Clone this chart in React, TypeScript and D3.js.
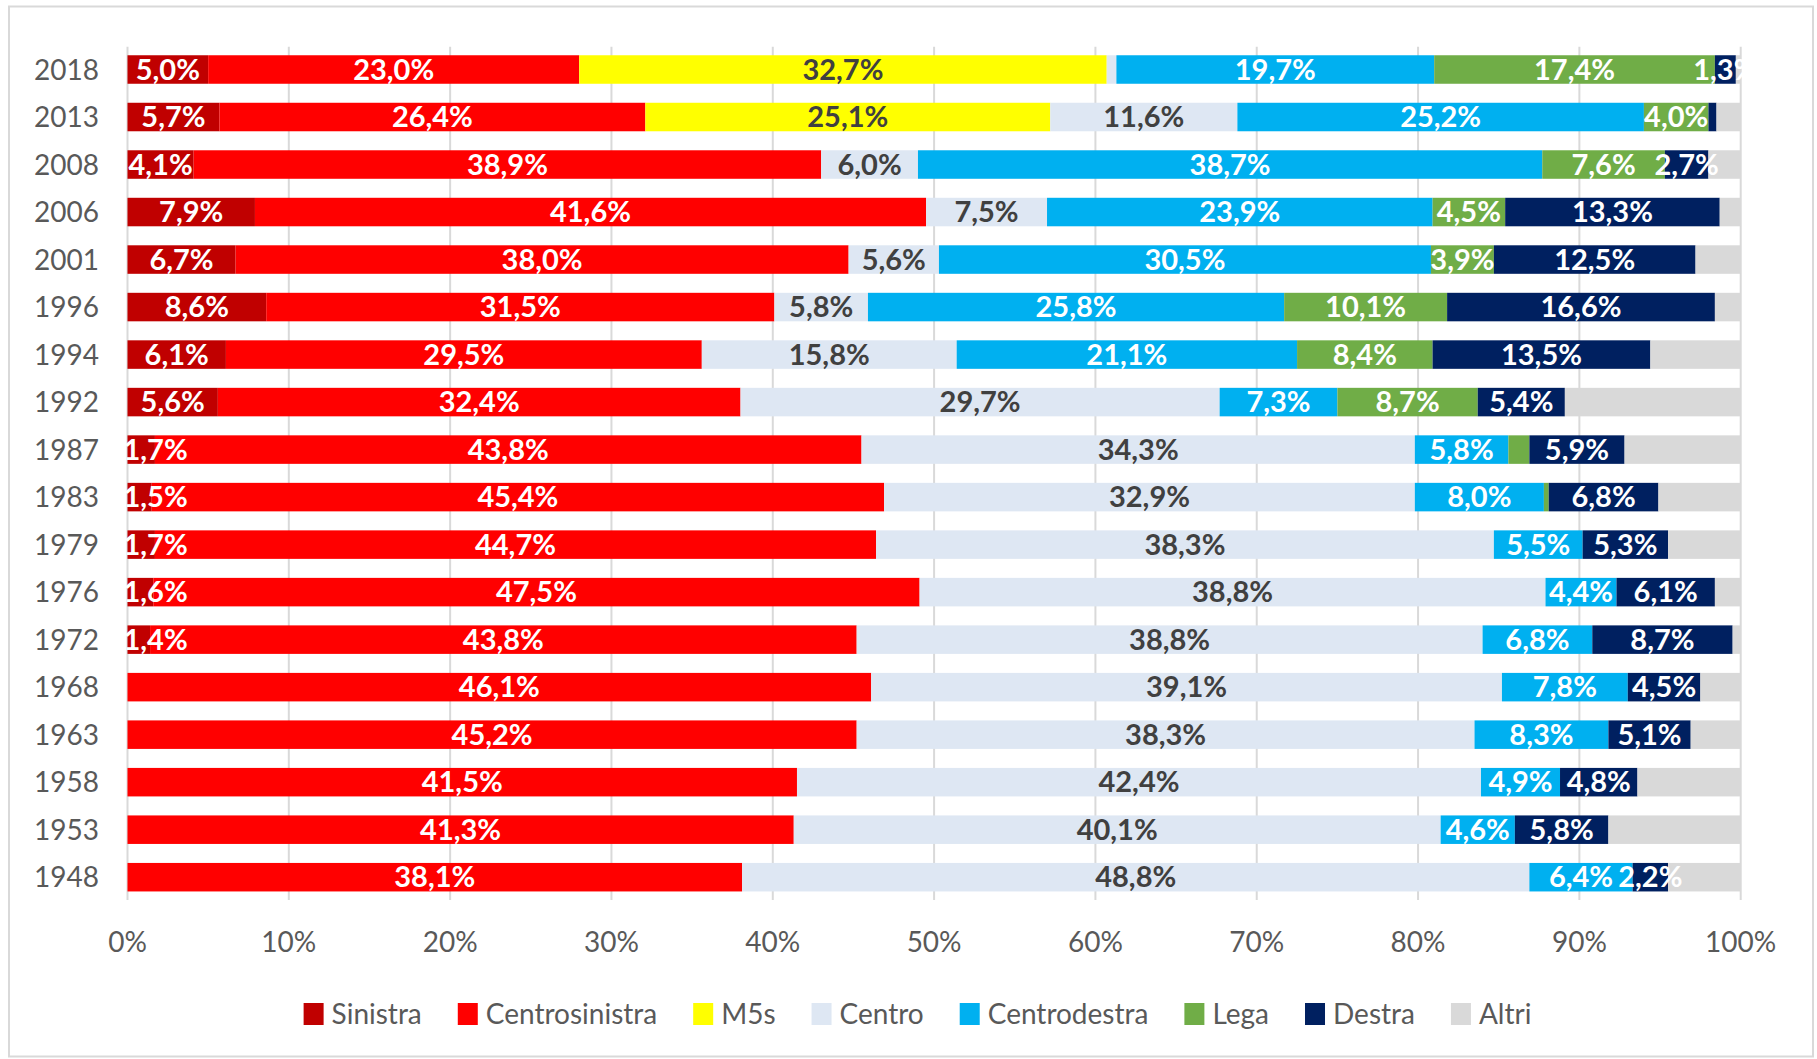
import React from "react";
import * as d3 from "d3";

const years = ["2018","2013","2008","2006","2001","1996","1994","1992","1987","1983","1979","1976","1972","1968","1963","1958","1953","1948"];
const seriesNames = ["Sinistra","Centrosinistra","M5s","Centro","Centrodestra","Lega","Destra","Altri"];
const sinistra = [5.0,5.7,4.1,7.9,6.7,8.6,6.1,5.6,1.7,1.5,1.7,1.6,1.4,0,0,0,0,0];
const centrosinistra = [23.0,26.4,38.9,41.6,38.0,31.5,29.5,32.4,43.8,45.4,44.7,47.5,43.8,46.1,45.2,41.5,41.3,38.1];
const m5s = [32.7,25.1,0,0,0,0,0,0,0,0,0,0,0,0,0,0,0,0];
const centro = [0.6,11.6,6.0,7.5,5.6,5.8,15.8,29.7,34.3,32.9,38.3,38.8,38.8,39.1,38.3,42.4,40.1,48.8];
const centrodestra = [19.7,25.2,38.7,23.9,30.5,25.8,21.1,7.3,5.8,8.0,5.5,4.4,6.8,7.8,8.3,4.9,4.6,6.4];
const lega = [17.4,4.0,7.6,4.5,3.9,10.1,8.4,8.7,1.3,0.3,0,0,0,0,0,0,0,0];
const destra = [1.3,0.5,2.7,13.3,12.5,16.6,13.5,5.4,5.9,6.8,5.3,6.1,8.7,4.5,5.1,4.8,5.8,2.2];
const altri = [0.3,1.5,2.0,1.3,2.8,1.6,5.6,10.9,7.2,5.1,4.5,1.6,0.5,2.5,3.1,6.4,8.2,4.5];
const xTicks = [0,10,20,30,40,50,60,70,80,90,100];
const hiddenLabels = ["1987|Lega"];

const seriesValues = [sinistra, centrosinistra, m5s, centro, centrodestra, lega, destra, altri];
const colors = ["#C00000","#FF0000","#FFFF00","#DEE7F3","#00B0F0","#70AD47","#002060","#D9D9D9"];
const darkLabelSeries = ["M5s","Centro"];

const W = 1817, H = 1059;
const FONT = "Lato, Carlito, Calibri, sans-serif";

function fmt(v: number) {
  return v.toFixed(1).replace(".", ",") + "%";
}

let _ctx: CanvasRenderingContext2D | null = null;
function measure(text: string, size: number, bold = false) {
  if (!_ctx) _ctx = document.createElement("canvas").getContext("2d");
  _ctx!.font = `${bold ? "bold " : ""}${size}px Lato`;
  return _ctx!.measureText(text).width;
}

export default function App() {
  const plotLeft = 127.5;
  const x = d3.scaleLinear().domain([0, 100]).range([plotLeft, 1740.7]);
  const y = d3.scaleBand<string>().domain(years).range([46.7, 900]).paddingInner(0.4).paddingOuter(0.18);

  const table = years.map((yr, i) => {
    const row: any = { year: yr };
    seriesNames.forEach((s, k) => (row[s] = seriesValues[k][i]));
    return row;
  });
  const stacked = d3.stack<any>().keys(seriesNames)(table);

  const labelFont = 29;
  const axisFont = 28;

  const legendFont = 28;
  const swW = 20, swH = 22, swGap = 8, itemGap = 36;
  const widths = seriesNames.map((s) => measure(s, legendFont));
  const total = widths.reduce((a, w) => a + swW + swGap + w, 0) + itemGap * (seriesNames.length - 1);
  let lx = 917.5 - total / 2;
  const legendItems = seriesNames.map((s, k) => {
    const item = { name: s, x: lx, color: colors[k] };
    lx += swW + swGap + widths[k] + itemGap;
    return item;
  });
  const legendY = 1014;

  return (
    <svg width={W} height={H} style={{ position: "absolute", left: 0, top: 0, display: "block", background: "#fff" }} fontFamily={FONT}>
      <defs>
        <clipPath id="plotClip">
          <rect x={122} y={40} width={1746 - 122} height={870} />
        </clipPath>
      </defs>
      <rect x={9} y={6.5} width={1804} height={1050} fill="#fff" stroke="#D9D9D9" strokeWidth={2} />
      {xTicks.map((t) => (
        <line key={t} x1={x(t)} x2={x(t)} y1={46.7} y2={900} stroke="#D9D9D9" strokeWidth={2} />
      ))}
      {stacked.map((layer, k) => (
        <g key={layer.key} fill={colors[k]}>
          {layer.map((d, i) =>
            d[1] - d[0] > 0 ? (
              <rect key={i} x={x(d[0])} y={y(years[i])!} width={x(d[1]) - x(d[0])} height={y.bandwidth()} />
            ) : null
          )}
        </g>
      ))}
      <g clipPath="url(#plotClip)" fontWeight="bold" fontSize={labelFont} textAnchor="middle">
        {stacked.map((layer, k) =>
          layer.map((d, i) => {
            const v = d[1] - d[0];
            const name = layer.key;
            if (name === "Altri" || v < 1.0 || hiddenLabels.includes(`${years[i]}|${name}`)) return null;
            const txt = fmt(seriesValues[k][i]);
            const w = measure(txt, labelFont, true);
            let cx = (x(d[0]) + x(d[1])) / 2;
            cx = Math.max(cx, plotLeft + w / 2 - 4);
            const cy = y(years[i])! + y.bandwidth() / 2;
            return (
              <text key={`${name}-${i}`} x={cx} y={cy + 0.35 * labelFont} fill={darkLabelSeries.includes(name) ? "#404040" : "#FFFFFF"}>
                {txt}
              </text>
            );
          })
        )}
      </g>
      <g fontSize={axisFont} fill="#595959" textAnchor="end">
        {years.map((yr) => (
          <text key={yr} x={99} y={y(yr)! + y.bandwidth() / 2 + 0.36 * axisFont}>{yr}</text>
        ))}
      </g>
      <g fontSize={axisFont} fill="#595959" textAnchor="middle">
        {xTicks.map((t) => (
          <text key={t} x={x(t)} y={952}>{`${t}%`}</text>
        ))}
      </g>
      <g fontSize={legendFont} fill="#595959">
        {legendItems.map((it) => (
          <g key={it.name}>
            <rect x={it.x} y={legendY - swH / 2} width={swW} height={swH} fill={it.color} />
            <text x={it.x + swW + swGap} y={legendY + 0.36 * legendFont}>{it.name}</text>
          </g>
        ))}
      </g>
    </svg>
  );
}
